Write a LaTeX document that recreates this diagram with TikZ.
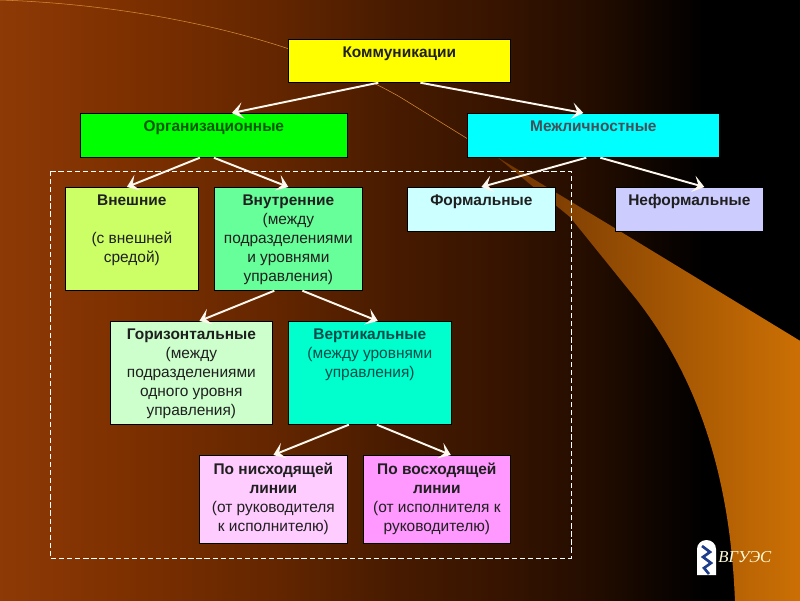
\documentclass[tikz,border=0pt]{standalone}
\usepackage{fontspec}
\setmainfont{Liberation Sans}
\newfontfamily\logofont{Liberation Serif}
\usetikzlibrary{arrows.meta}

\definecolor{swooshdark}{RGB}{110,52,2}
\definecolor{swooshlight}{RGB}{204,112,4}
\definecolor{cyellow}{RGB}{255,255,0}
\definecolor{cgreen}{RGB}{0,255,0}
\definecolor{ccyan}{RGB}{0,255,255}
\definecolor{clime}{RGB}{204,255,102}
\definecolor{cmint}{RGB}{102,255,153}
\definecolor{cpale}{RGB}{204,255,255}
\definecolor{clilac}{RGB}{204,204,255}
\definecolor{cpalegreen}{RGB}{204,255,204}
\definecolor{cturq}{RGB}{0,255,204}
\definecolor{cpink}{RGB}{255,204,255}
\definecolor{cmagenta}{RGB}{255,153,255}
\definecolor{tipwhite}{RGB}{255,248,238}
\definecolor{logoblue}{RGB}{30,60,140}

\pgfdeclarehorizontalshading{bgshade}{100bp}{
    rgb(0bp)=(0.557,0.227,0.024);
    rgb(25bp)=(0.557,0.227,0.024);
    rgb(33bp)=(0.490,0.188,0);
    rgb(42bp)=(0.392,0.149,0);
    rgb(50bp)=(0.275,0.102,0);
    rgb(56bp)=(0.216,0.078,0);
    rgb(62.5bp)=(0.130,0.047,0);
    rgb(67bp)=(0.035,0.012,0);
    rgb(69bp)=(0,0,0);
    rgb(100bp)=(0,0,0)}

\def\px{0.02cm}
\tikzset{
    boxnode/.style={draw=black, line width=0.4pt, anchor=north west, inner sep=0pt},
    boxtext/.style={anchor=north, align=center, inner sep=0pt, yshift=-4.2pt, text=black!88,
        font=\fontsize{8.8}{10.8}\selectfont},
    conn/.style={draw=tipwhite, line width=1.1pt, -{Stealth[length=6.5pt, width=9.5pt, inset=3pt, fill=tipwhite]}},
}

\begin{document}
\begin{tikzpicture}[x=\px, y=-\px]
    \useasboundingbox (0,0) rectangle (800,600);

    % background
    \shade[shading=bgshade] (-2,-2) rectangle (802,602);

    % orange swoosh
    \begin{scope}
        \clip (497,157) -- (613,227) -- (733,300) -- (802,342) -- (802,602) -- (735,602)
            .. controls (730,470) and (695,375) .. (637,300) -- (570,217) -- cycle;
        \shade[left color=swooshdark, right color=swooshlight] (497,150) rectangle (802,602);
    \end{scope}
    \draw[swooshlight!80!white, line width=0.3pt] (0,0) .. controls (150,5) and (300,40) .. (400,97) -- (497,157);

    % frame
    \draw[white, dashed, line width=0.5pt, dash pattern=on 3pt off 1.6pt] (50,171) rectangle (571,558);

    \node[boxnode, fill=cyellow, minimum width=222*\px, minimum height=43*\px,
        label={[boxtext]north:\textbf{Коммуникации}}] (kom) at (288,39) {};
    \node[boxnode, fill=cgreen, minimum width=267*\px, minimum height=44*\px,
        label={[boxtext, text=green!35!black]north:\textbf{Организационные}}] (org) at (80,113) {};
    \node[boxnode, fill=ccyan, minimum width=252*\px, minimum height=44*\px,
        label={[boxtext, text=cyan!25!black]north:\textbf{Межличностные}}] (mez) at (467,113) {};

    \node[boxnode, fill=clime, minimum width=133*\px, minimum height=103*\px,
        label={[boxtext]north:\textbf{Внешние}\\[10.8pt](с внешней\\средой)}] (vne) at (65,187) {};
    \node[boxnode, fill=cmint, minimum width=148*\px, minimum height=103*\px,
        label={[boxtext]north:\textbf{Внутренние}\\(между\\подразделениями\\и уровнями\\управления)}] (vnu) at (214,187) {};
    \node[boxnode, fill=cpale, minimum width=148*\px, minimum height=44*\px,
        label={[boxtext]north:\textbf{Формальные}}] (for) at (407,187) {};
    \node[boxnode, fill=clilac, minimum width=148*\px, minimum height=44*\px,
        label={[boxtext]north:\textbf{Неформальные}}] (nef) at (615,187) {};

    \node[boxnode, fill=cpalegreen, minimum width=162*\px, minimum height=103*\px,
        label={[boxtext]north:\textbf{Горизонтальные}\\(между\\подразделениями\\одного уровня\\управления)}] (gor) at (110,321) {};
    \node[boxnode, fill=cturq, minimum width=163*\px, minimum height=103*\px,
        label={[boxtext, text=teal!60!black]north:\textbf{Вертикальные}\\(между уровнями\\управления)}] (ver) at (288,321) {};

    \node[boxnode, fill=cpink, minimum width=148*\px, minimum height=88*\px,
        label={[boxtext]north:\textbf{По нисходящей}\\\textbf{линии}\\(от руководителя\\к исполнителю)}] (nis) at (199,455) {};
    \node[boxnode, fill=cmagenta, minimum width=147*\px, minimum height=88*\px,
        label={[boxtext]north:\textbf{По восходящей}\\\textbf{линии}\\(от исполнителя к\\руководителю)}] (vos) at (363,455) {};

    \draw[conn] ([shift={(-21,0)}]kom.south) -- ([shift={(18,0)}]org.north);
    \draw[conn] ([shift={(21,0)}]kom.south) -- ([shift={(-10,0)}]mez.north);
    \draw[conn] ([shift={(-14,0)}]org.south) -- ([shift={(-5,0)}]vne.north);
    \draw[conn] (org.south) -- (vnu.north);
    \draw[conn] ([shift={(-7,0)}]mez.south) -- (for.north);
    \draw[conn] ([shift={(7,0)}]mez.south) -- ([shift={(15,0)}]nef.north);
    \draw[conn] ([shift={(-14,0)}]vnu.south) -- ([shift={(8,0)}]gor.north);
    \draw[conn] ([shift={(14,0)}]vnu.south) -- ([shift={(8,0)}]ver.north);
    \draw[conn] ([shift={(-21,0)}]ver.south) -- (nis.north);
    \draw[conn] ([shift={(7,0)}]ver.south) -- ([shift={(14,0)}]vos.north);

    % logo
    \fill[white] (697,575) -- (697,549) arc[start angle=180, end angle=360, x radius=9.5, y radius=9] -- (716,575) -- cycle;
    \draw[logoblue, line width=1.5pt] (702,546) -- (710,552) -- (703,557) -- (711,563) -- (704,568) -- (709,574);
    \node[anchor=west, inner sep=0pt, text=white!85!yellow, font=\logofont\itshape\fontsize{9.5}{10}\selectfont] (logo) at (718,557) {ВГУЭС};
\end{tikzpicture}
\end{document}
